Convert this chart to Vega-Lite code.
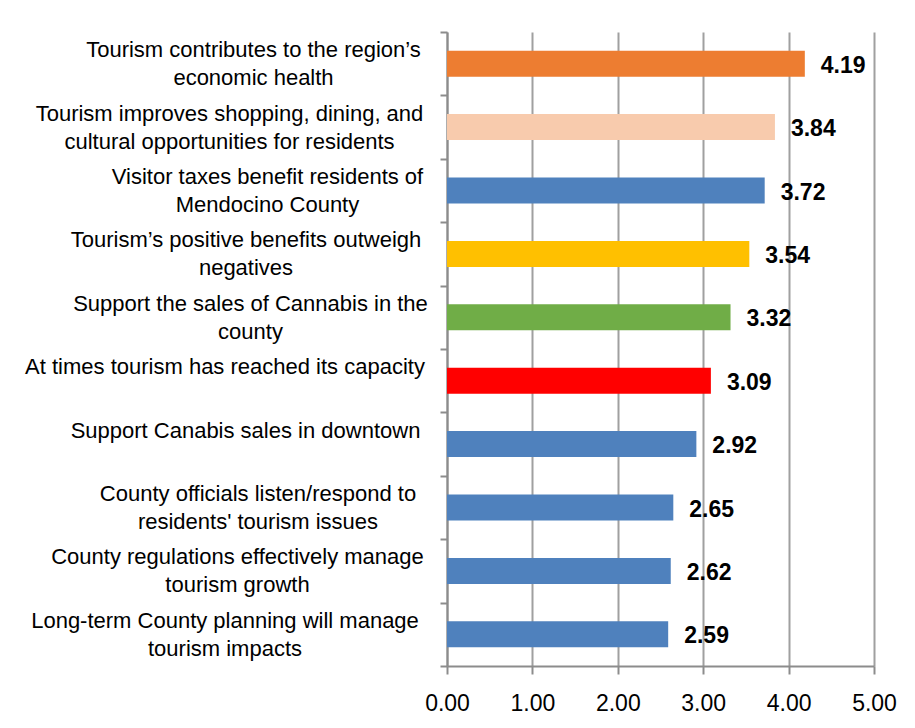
{
  "$schema": "https://vega.github.io/schema/vega-lite/v6.json",
  "width": 427,
  "height": 634,
  "autosize": {"type": "none"},
  "padding": {"left": 447, "top": 32, "right": 41, "bottom": 62},
  "background": "white",
  "config": {
    "view": {"stroke": null},
    "font": "Liberation Sans"
  },
  "data": {
    "values": [
      {"item": "Tourism contributes to the region’s|economic health", "group": "g1", "score": 4.19},
      {"item": "Tourism improves shopping, dining, and|cultural opportunities for residents", "group": "g2", "score": 3.84},
      {"item": "Visitor taxes benefit residents of|Mendocino County", "group": "g3", "score": 3.72},
      {"item": "Tourism’s positive benefits outweigh|negatives", "group": "g4", "score": 3.54},
      {"item": "Support the sales of Cannabis in the|county", "group": "g5", "score": 3.32},
      {"item": "At times tourism has reached its capacity", "group": "g6", "score": 3.09},
      {"item": "Support Canabis sales in downtown", "group": "g3", "score": 2.92},
      {"item": "County officials listen/respond to|residents' tourism issues", "group": "g3", "score": 2.65},
      {"item": "County regulations effectively manage|tourism growth", "group": "g3", "score": 2.62},
      {"item": "Long-term County planning will manage|tourism impacts", "group": "g3", "score": 2.59}
    ]
  },
  "encoding": {
    "y": {
      "field": "item",
      "type": "nominal",
      "sort": null,
      "scale": {"paddingInner": 0, "paddingOuter": 0},
      "axis": {
        "title": null,
        "labelExpr": "split(datum.label, '|')",
        "labelFont": "Liberation Sans",
        "labelFontSize": 22,
        "labelColor": "black",
        "labelLineHeight": 28,
        "labelAlign": "center",
        "labelBaseline": "middle",
        "labelLimit": 0,
        "labelOffset": -14,
        "labelPadding": {"expr": "[187,211,173,194.5,190,215.5,195,182.5,203,215.5][indexof(domain('y'), datum.value)]"},
        "tickBand": "extent",
        "tickSize": 7,
        "tickColor": "#8c8c8c",
        "tickWidth": 2,
        "domainColor": "#8c8c8c",
        "domainWidth": 2,
        "grid": false
      }
    },
    "x": {
      "field": "score",
      "type": "quantitative",
      "scale": {"domain": [0, 5], "nice": false},
      "axis": {
        "title": null,
        "values": [0, 1, 2, 3, 4, 5],
        "format": ".2f",
        "labelFont": "Liberation Sans",
        "labelFontSize": 23,
        "labelColor": "black",
        "labelPadding": 18,
        "labelFlush": false,
        "tickSize": 8,
        "tickColor": "#8c8c8c",
        "tickWidth": 2,
        "domainColor": "#8c8c8c",
        "domainWidth": 2,
        "grid": true,
        "gridColor": "#a0a0a0",
        "gridWidth": 2
      }
    }
  },
  "layer": [
    {
      "mark": {"type": "bar"},
      "encoding": {
        "size": {"value": 26},
        "color": {
          "field": "group",
          "type": "nominal",
          "legend": null,
          "scale": {
            "domain": ["g1", "g2", "g3", "g4", "g5", "g6"],
            "range": ["#ED7D31", "#F8CBAD", "#4F81BD", "#FFC000", "#70AD47", "#FF0000"]
          }
        }
      }
    },
    {
      "mark": {"type": "text", "align": "left", "baseline": "middle", "dx": 16, "dy": 2, "fontSize": 23, "fontWeight": "bold", "font": "Liberation Sans", "color": "black"},
      "encoding": {
        "text": {"field": "score", "type": "quantitative", "format": ".2f"}
      }
    }
  ]
}
